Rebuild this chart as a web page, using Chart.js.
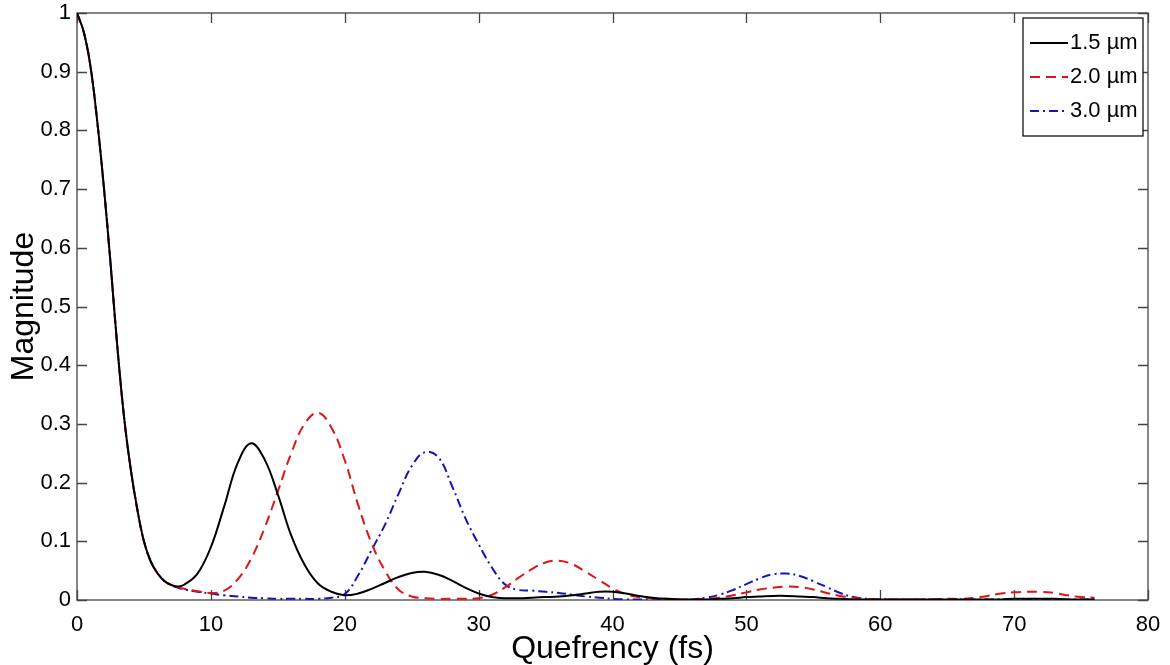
<!DOCTYPE html>
<html>
<head>
<meta charset="utf-8">
<script src="https://cdn.jsdelivr.net/npm/chart.js"></script>
<style>
  body { margin: 0; background: #fff; }
</style>
</head>
<body>
<canvas id="myChart" width="1170" height="665"></canvas>
<script>
// quefrency samples (fs)
const quefrency = [0, 0.5, 1, 1.5, 2, 2.5, 3, 3.5, 4, 4.5, 5, 5.5, 6, 6.5, 7, 7.5,
  8, 9, 10, 11, 12, 13, 14, 15, 16, 17, 18, 19, 20, 21, 22, 23, 24, 25, 26, 27, 28, 29,
  30, 31, 32, 33, 34, 35, 36, 37, 38, 39, 40, 41, 42, 43, 44, 45, 46, 47, 48, 49,
  50, 51, 52, 53, 54, 55, 56, 57, 58, 59, 60, 61, 62, 63, 64, 65, 66, 67, 68, 69,
  70, 71, 72, 73, 74, 75, 76];

const mag15 = [1, 0.968, 0.91, 0.818, 0.705, 0.575, 0.435, 0.315, 0.225, 0.155, 0.10, 0.066, 0.046, 0.033, 0.026, 0.023,
  0.026, 0.045, 0.09, 0.16, 0.233, 0.267, 0.24, 0.18, 0.11, 0.06, 0.028, 0.014, 0.008, 0.011, 0.019, 0.029, 0.039, 0.046, 0.048, 0.043, 0.033, 0.021,
  0.011, 0.005, 0.003, 0.003, 0.004, 0.005, 0.006, 0.008, 0.011, 0.014, 0.014, 0.011, 0.007, 0.004, 0.002, 0.001, 0.001, 0.001, 0.002, 0.003,
  0.005, 0.006, 0.007, 0.007, 0.006, 0.005, 0.003, 0.002, 0.001, 0.001, 0.001, 0.001, 0.001, 0.001, 0.001, 0.001, 0.001, 0.001, 0.001, 0.001,
  0.002, 0.002, 0.002, 0.002, 0.001, 0.001, 0.001];

const mag20 = [1, 0.968, 0.91, 0.818, 0.705, 0.575, 0.435, 0.315, 0.225, 0.155, 0.10, 0.066, 0.046, 0.033, 0.026, 0.022,
  0.019, 0.015, 0.012, 0.016, 0.035, 0.07, 0.122, 0.185, 0.25, 0.30, 0.319, 0.294, 0.238, 0.162, 0.097, 0.05, 0.018, 0.006, 0.003, 0.002, 0.002, 0.002,
  0.003, 0.009, 0.022, 0.038, 0.053, 0.064, 0.067, 0.061, 0.048, 0.034, 0.02, 0.01, 0.005, 0.003, 0.002, 0.001, 0.001, 0.002, 0.004, 0.008,
  0.013, 0.018, 0.021, 0.023, 0.022, 0.018, 0.012, 0.007, 0.004, 0.002, 0.001, 0.001, 0.001, 0.001, 0.001, 0.002, 0.002, 0.004, 0.007, 0.011,
  0.013, 0.014, 0.014, 0.012, 0.008, 0.005, 0.004];

const mag30 = [1, 0.968, 0.91, 0.818, 0.705, 0.575, 0.435, 0.315, 0.225, 0.155, 0.10, 0.066, 0.046, 0.033, 0.026, 0.021,
  0.018, 0.014, 0.011, 0.008, 0.006, 0.004, 0.003, 0.002, 0.002, 0.002, 0.002, 0.004, 0.01, 0.042, 0.085, 0.128, 0.18, 0.228, 0.252, 0.243, 0.195, 0.14,
  0.095, 0.055, 0.026, 0.017, 0.016, 0.014, 0.012, 0.009, 0.006, 0.004, 0.002, 0.001, 0.001, 0.001, 0.001, 0.001, 0.001, 0.004, 0.009, 0.017,
  0.027, 0.037, 0.044, 0.045, 0.041, 0.032, 0.022, 0.012, 0.005, 0.002, 0.001, 0.001, 0.001, 0.001, 0.001, 0.001, 0.001, 0.001, 0.001, 0.001,
  0.001, 0.001, 0.001, 0.001, 0.001, 0.001, 0.001];

const seriesLabels = ['1.5 \u00b5m', '2.0 \u00b5m', '3.0 \u00b5m'];
const xTickLabels = ['0', '10', '20', '30', '40', '50', '60', '70', '80'];
const yTickLabels = ['0', '0.1', '0.2', '0.3', '0.4', '0.5', '0.6', '0.7', '0.8', '0.9', '1'];

const FONT = 'Liberation Sans, Arial, Helvetica, sans-serif';

function pts(values) {
  return quefrency.map((q, i) => ({ x: q, y: values[i] }));
}

// box round the plot with inward ticks on all four sides, like matlab
const framePlugin = {
  id: 'frame',
  beforeDatasetsDraw(chart) {
    const { ctx, chartArea: a, scales: { x, y } } = chart;
    ctx.save();
    ctx.strokeStyle = '#444';
    ctx.lineWidth = 1.3;
    ctx.strokeRect(a.left, a.top, a.right - a.left, a.bottom - a.top);
    ctx.beginPath();
    x.ticks.forEach(t => {
      const px = Math.round(x.getPixelForValue(t.value)) + 0.5;
      ctx.moveTo(px, a.bottom); ctx.lineTo(px, a.bottom - 10);
      ctx.moveTo(px, a.top); ctx.lineTo(px, a.top + 10);
    });
    y.ticks.forEach(t => {
      const py = Math.round(y.getPixelForValue(t.value)) + 0.5;
      ctx.moveTo(a.left, py); ctx.lineTo(a.left + 10, py);
      ctx.moveTo(a.right, py); ctx.lineTo(a.right - 10, py);
    });
    ctx.stroke();
    ctx.restore();
  }
};

// legend box in the top right corner
const legendPlugin = {
  id: 'boxLegend',
  afterDatasetsDraw(chart) {
    const { ctx, chartArea: a } = chart;
    const sets = chart.data.datasets;
    const right = a.right - 5, top = a.top + 5;
    const w = 120, rowH = 34, h = rowH * sets.length + 16;
    const left = right - w;
    ctx.save();
    ctx.fillStyle = '#fff';
    ctx.fillRect(left, top, w, h);
    ctx.strokeStyle = '#000';
    ctx.lineWidth = 1.2;
    ctx.strokeRect(left, top, w, h);
    ctx.font = '22px ' + FONT;
    ctx.textBaseline = 'middle';
    sets.forEach((ds, i) => {
      const cy = top + 25 + i * rowH;
      ctx.beginPath();
      ctx.setLineDash(ds.borderDash || []);
      ctx.strokeStyle = ds.borderColor;
      ctx.lineWidth = ds.borderWidth;
      ctx.moveTo(left + 7, cy);
      ctx.lineTo(left + 45, cy);
      ctx.stroke();
      ctx.setLineDash([]);
      ctx.fillStyle = '#000';
      ctx.fillText(ds.label, left + 47, cy);
    });
    ctx.restore();
  }
};

const data = {
  datasets: [
    {
      label: seriesLabels[0],
      data: pts(mag15),
      borderColor: '#000000',
      borderWidth: 2
    },
    {
      label: seriesLabels[1],
      data: pts(mag20),
      borderColor: '#dd1515',
      borderWidth: 2,
      borderDash: [10, 6]
    },
    {
      label: seriesLabels[2],
      data: pts(mag30),
      borderColor: '#1515b4',
      borderWidth: 2,
      borderDash: [9, 4, 2, 4]
    }
  ]
};

const options = {
  responsive: false,
  animation: false,
  devicePixelRatio: 1,
  layout: { padding: { left: 0, right: 22, top: 13, bottom: 0 } },
  elements: {
    point: { radius: 0 },
    line: { tension: 0.4, fill: false }
  },
  plugins: {
    legend: { display: false },
    tooltip: { enabled: false }
  },
  scales: {
    x: {
      type: 'linear',
      min: 0,
      max: 80,
      grid: { display: false, drawTicks: false },
      border: { display: false },
      ticks: {
        stepSize: 10,
        padding: 12,
        color: '#000',
        font: { family: FONT, size: 22 },
        callback: (v, i) => xTickLabels[i]
      },
      title: {
        display: true,
        text: 'Quefrency (fs)',
        color: '#000',
        padding: { top: 0, bottom: 0 },
        font: { family: FONT, size: 32, lineHeight: 1 }
      },
      afterFit: s => { s.height = 65; s.paddingLeft = 0; s.paddingRight = 0; }
    },
    y: {
      type: 'linear',
      min: 0,
      max: 1,
      grid: { display: false, drawTicks: false },
      border: { display: false },
      ticks: {
        stepSize: 0.1,
        padding: 6,
        color: '#000',
        font: { family: FONT, size: 22 },
        callback: (v, i) => yTickLabels[i]
      },
      title: {
        display: true,
        text: 'Magnitude',
        color: '#000',
        padding: { top: 8, bottom: 0 },
        font: { family: FONT, size: 32, lineHeight: 1 }
      },
      afterFit: s => { s.width = 77; s.paddingTop = 0; s.paddingBottom = 0; }
    }
  }
};

new Chart(document.getElementById('myChart'), {
  type: 'line',
  data: data,
  options: options,
  plugins: [framePlugin, legendPlugin]
});
</script>
</body>
</html>
